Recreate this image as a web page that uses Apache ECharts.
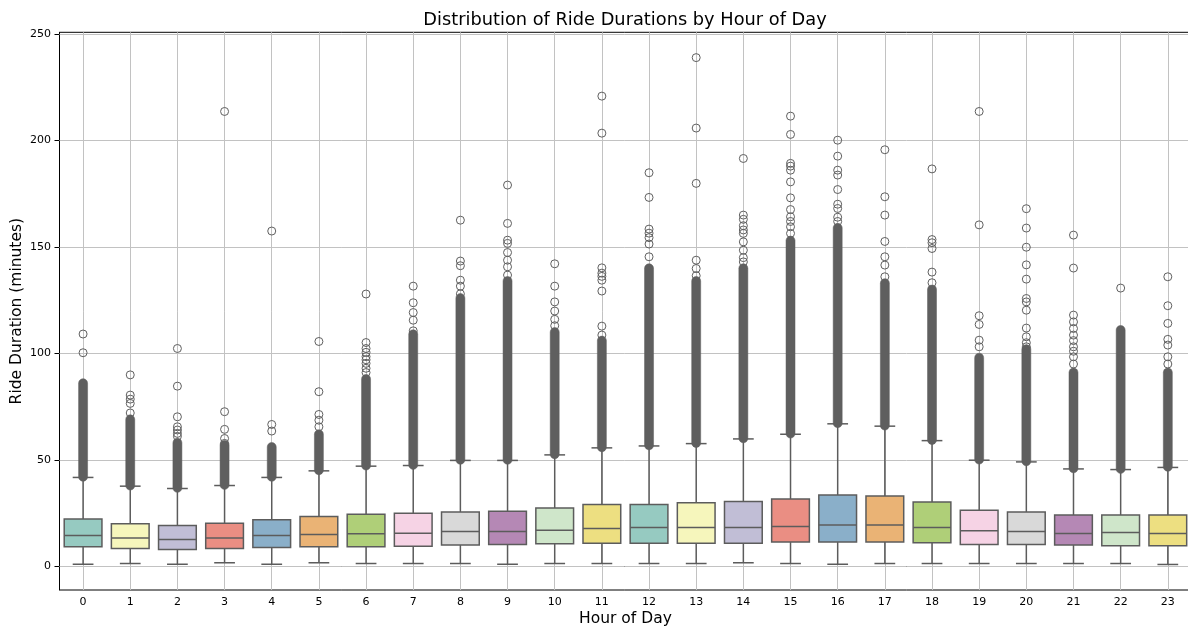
<!DOCTYPE html>
<html><head><meta charset="utf-8">
<script src="https://cdn.jsdelivr.net/npm/echarts@6/dist/echarts.min.js"></script>
<style>html,body{margin:0;padding:0;background:#fff}#c{width:1188px;height:628px}</style>
</head><body><div id="c"></div>
<script>
const hours = ['0','1','2','3','4','5','6','7','8','9','10','11','12','13','14','15','16','17','18','19','20','21','22','23'];
const whiskerLow  = [0.9,1.25,0.9,1.6,0.9,1.6,1.25,1.25,1.25,0.9,1.25,1.25,1.25,1.25,1.6,1.25,0.9,1.25,1.25,1.25,1.25,1.25,1.25,0.8];
const q1          = [9.1,8.3,7.8,8.3,8.8,9.1,9.1,9.4,9.9,10.2,10.5,10.8,10.8,10.8,10.8,11.3,11.3,11.3,11.0,10.2,10.2,9.9,9.6,9.6];
const median      = [14.4,13.2,12.5,13.2,14.4,14.9,15.2,15.5,16.3,16.3,16.9,17.7,18.2,18.2,18.2,18.6,19.3,19.3,18.2,16.6,16.3,15.3,15.8,15.3];
const q3          = [22.2,19.9,19.1,20.2,21.8,23.3,24.4,24.9,25.5,25.8,27.3,29.0,29.0,29.8,30.4,31.6,33.4,33.0,30.1,26.3,25.5,24.0,24.0,24.0];
const whiskerHigh = [41.7,37.6,36.5,37.9,41.7,44.8,47.0,47.3,49.7,49.7,52.3,55.6,56.5,57.6,59.8,62.0,66.9,65.8,59.0,49.8,49.0,45.7,45.4,46.4];
// dense runs of overlapping outlier circles (first and last value of each run)
const denseLow  = [42.0,37.9,36.8,38.2,42.0,45.1,47.3,47.6,50.0,50.0,52.6,55.9,56.8,57.9,60.1,62.3,67.2,66.1,59.3,50.1,49.3,46.0,45.7,46.7];
const denseHigh = [86,69,58,57,56,62,88,109,126,134,110,106,140,134,140,153,159,133,130,98,102,91,111,91];
// isolated outliers per hour
const outliers = [
  [100.3,109.1],
  [72,76.5,78.5,80.4,89.9],
  [61,62.4,64,65.5,70.2,84.6,102.3],
  [57.7,60,64.3,72.6,213.7],
  [63.5,66.6,157.5],
  [65.5,68.6,71.3,82,105.6],
  [91,93,95.3,97,98.5,100.5,102.3,105.1,127.9],
  [110.6,115.6,119.2,123.8,131.6],
  [128,131.6,134.4,141.2,143.4,162.6],
  [136.8,140.7,143.8,147.4,151.7,153.2,161.1,179.1],
  [113,116,119.9,124.2,131.6,142.1],
  [108.6,112.8,129.3,134.4,136.2,137.7,140.2,203.5,220.9],
  [145.4,151.4,154.4,156.5,158.4,173.3,184.9],
  [136.5,139.9,143.8,179.9,205.9,239],
  [143,145,148.5,152.4,156.4,158,160,163,165,191.6],
  [156.4,159.5,162,164.2,167.6,173.1,180.6,186.1,188,189.3,202.9,211.5],
  [162,164,168.1,170.1,177,183.8,186.1,192.7,200.2],
  [136,141.5,145.4,152.6,165,173.6,195.7],
  [133.2,138.2,149.3,152,153.5,186.7],
  [103.1,106.2,113.6,117.7,160.4,213.7],
  [103.1,105,107.8,111.9,120.3,124.2,125.8,134.9,141.6,149.9,158.9,168],
  [95,98.4,101,103.1,106,108.6,111.7,114.8,118,140.1,155.6],
  [130.7],
  [95,98.4,103.9,106.6,114.1,122.4,136]
];
const yTicks = [0,50,100,150,200,250];
const palette = ['#96cac1','#f6f6bc','#c1bed6','#ea8e83','#8aafc9','#eab375','#afcf78','#f6d3e5','#d9d9d9','#b588b5','#cfe6ca','#eddf81'];
const boxColors = hours.map((h, i) => palette[i % palette.length]);

const FONT = 'DejaVu Sans';
const LINE = '#5c5c5c';

const boxData = hours.map((h, i) => [i, whiskerLow[i], q1[i], median[i], q3[i], whiskerHigh[i]]);
const denseData = hours.map((h, i) => [i, denseLow[i], denseHigh[i]]);
const outlierData = [];
outliers.forEach((arr, i) => arr.forEach(v => outlierData.push([i, v])));

const gridLines = hours.map(h => ({ xAxis: h })).concat(yTicks.map(v => ({ yAxis: v })));

function ln(x1, y1, x2, y2, w) {
  return { type: 'line', shape: { x1: x1, y1: y1, x2: x2, y2: y2 }, style: { stroke: LINE, lineWidth: w, fill: null } };
}

const chart = echarts.init(document.getElementById('c'), null, { renderer: 'canvas' });
chart.setOption({
  animation: false,
  backgroundColor: '#fff',
  textStyle: { fontFamily: FONT },
  graphic: [{
    type: 'text', x: 625, y: 20.5,
    style: { text: 'Distribution of Ride Durations by Hour of Day', fill: '#000', font: '17.8px "DejaVu Sans"', textAlign: 'center', textVerticalAlign: 'middle' }
  }],
  grid: { left: 59.5, right: -3.4, top: 32.3, bottom: 38, show: true, borderColor: '#000', borderWidth: 1, backgroundColor: 'transparent', outerBoundsMode: 'none', containLabel: false },
  xAxis: {
    type: 'category', data: hours, boundaryGap: true,
    name: 'Hour of Day', nameLocation: 'middle', nameGap: 21, nameMoveOverlap: false,
    nameTextStyle: { fontSize: 15.5, color: '#000', fontFamily: FONT },
    axisLine: { show: true, lineStyle: { color: '#000', width: 1 } },
    axisTick: { show: true, alignWithLabel: true, interval: 0, length: 5, lineStyle: { color: '#000' } },
    axisLabel: { interval: 0, fontSize: 11, color: '#000', margin: 7, fontFamily: FONT },
    splitLine: { show: false }
  },
  yAxis: {
    type: 'value', min: -11.2, max: 250.9,
    name: 'Ride Duration (minutes)', nameLocation: 'middle', nameGap: 35, nameMoveOverlap: false,
    nameTextStyle: { fontSize: 15.5, color: '#000', fontFamily: FONT },
    axisLine: { show: true, lineStyle: { color: '#000', width: 1 } },
    axisTick: { show: true, length: 5, customValues: yTicks, lineStyle: { color: '#000' } },
    axisLabel: { fontSize: 11, color: '#000', margin: 8.5, customValues: yTicks, fontFamily: FONT },
    splitLine: { show: false }
  },
  series: [
    {
      type: 'scatter', data: [], z: 1, silent: true,
      markLine: { z: 1, silent: true, symbol: ['none', 'none'], label: { show: false }, animation: false,
        lineStyle: { type: 'solid', color: '#c2c2c2', width: 1 }, data: gridLines }
    },
    {
      type: 'custom', z: 10, data: boxData, silent: true,
      renderItem: function (params, api) {
        const i = api.value(0);
        const lo = api.coord([i, api.value(1)]);
        const a = api.coord([i, api.value(2)]);
        const m = api.coord([i, api.value(3)]);
        const b = api.coord([i, api.value(4)]);
        const hi = api.coord([i, api.value(5)]);
        const band = api.size([1, 0])[0];
        const bw = band * 0.8, cw = bw * 0.55;
        const cx = lo[0];
        return { type: 'group', children: [
          ln(cx, hi[1], cx, b[1], 1.5),
          ln(cx, lo[1], cx, a[1], 1.5),
          ln(cx - cw / 2, hi[1], cx + cw / 2, hi[1], 1.5),
          ln(cx - cw / 2, lo[1], cx + cw / 2, lo[1], 1.5),
          { type: 'rect', shape: { x: cx - bw / 2, y: b[1], width: bw, height: a[1] - b[1] }, style: { fill: boxColors[params.dataIndex], stroke: LINE, lineWidth: 1.5 } },
          ln(cx - bw / 2, m[1], cx + bw / 2, m[1], 1.5)
        ]};
      }
    },
    {
      type: 'custom', z: 11, data: denseData, silent: true,
      renderItem: function (params, api) {
        const i = api.value(0);
        const p1 = api.coord([i, api.value(1)]);
        const p2 = api.coord([i, api.value(2)]);
        const r = 4.5;
        return { type: 'rect', shape: { x: p1[0] - r, y: p2[1] - r, width: 2 * r, height: p1[1] - p2[1] + 2 * r, r: r },
          style: { fill: '#5f5f5f', stroke: '#5f5f5f', lineWidth: 0.5 } };
      }
    },
    {
      type: 'scatter', z: 12, data: outlierData, symbol: 'circle', symbolSize: 8, silent: true,
      itemStyle: { color: 'rgba(0,0,0,0)', borderColor: '#5f5f5f', borderWidth: 1, opacity: 1 }
    }
  ]
});
</script></body></html>
